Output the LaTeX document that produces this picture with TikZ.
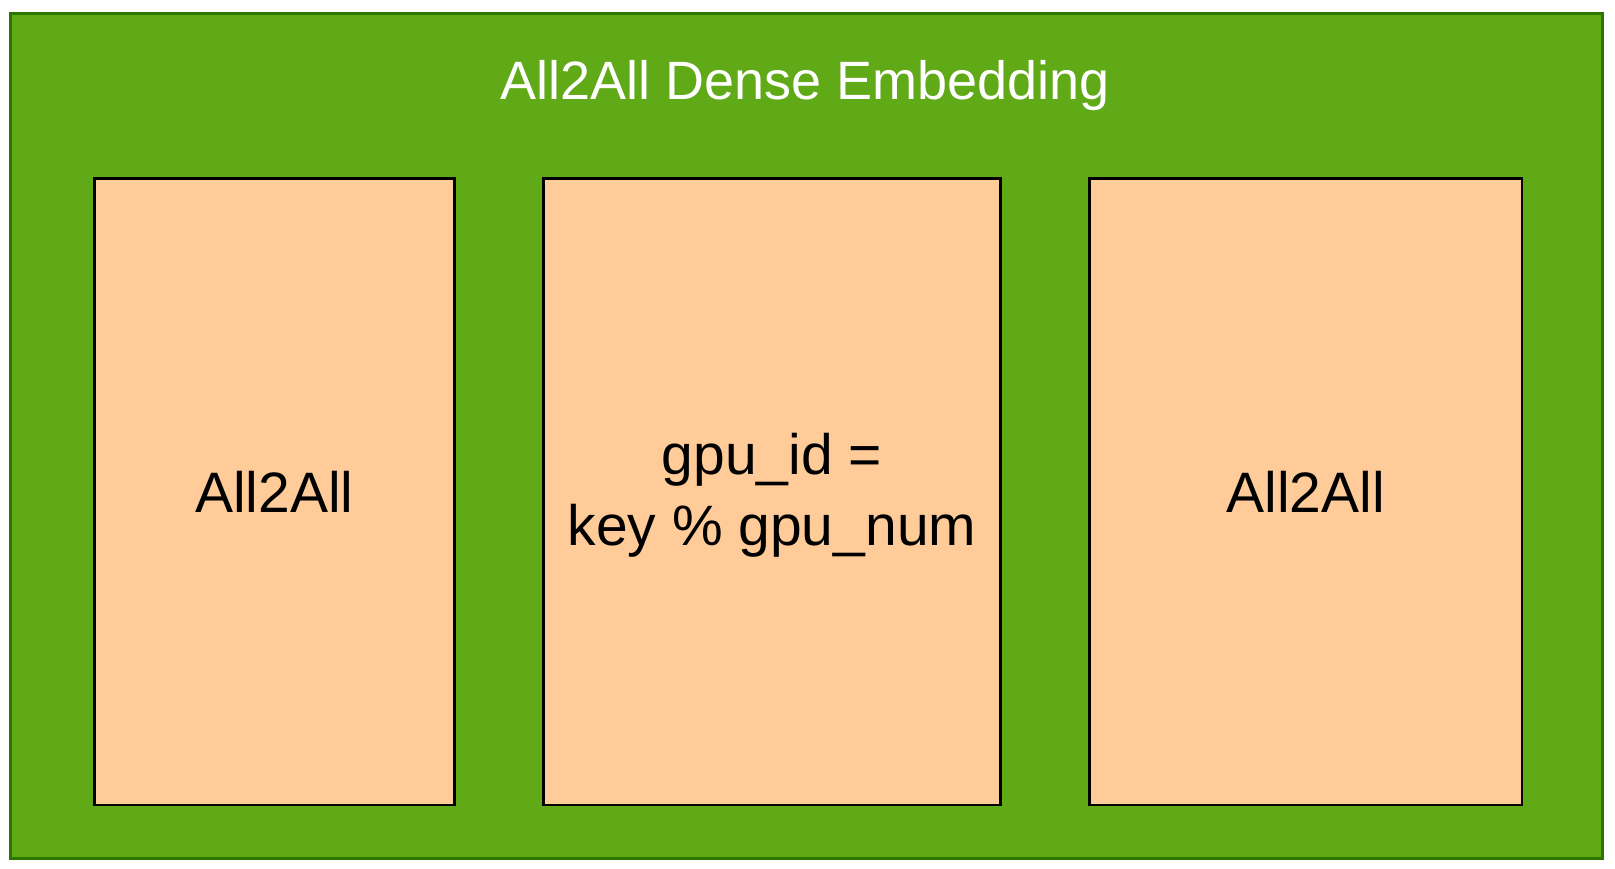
\documentclass[tikz,border=0pt]{standalone}
\usepackage{fontspec}
\setmainfont{Liberation Sans}
\definecolor{outergreen}{HTML}{60A917}
\definecolor{outerborder}{HTML}{2D7600}
\definecolor{peach}{HTML}{FFCC99}
\begin{document}
\begin{tikzpicture}[x=1pt,y=-1pt,
  outerbox/.style={draw=outerborder,fill=outergreen,line width=3pt},
  innerbox/.style={draw=black,fill=peach,line width=2.8pt},
  boxtext/.style={font=\fontsize{57}{71}\selectfont,align=center,text=black},
  titletext/.style={font=\fontsize{54}{60}\selectfont,text=white}]
\useasboundingbox (0,0) rectangle (1615,869);
\draw[outerbox] (10,13.5) rectangle (1602.5,858.5);
\node[titletext,anchor=base] (title) at (805,100) {All2All Dense Embedding};
\draw[innerbox] (94.3,178.3) rectangle (454.2,805) node[midway,boxtext] (b1) {All2All};
\draw[innerbox] (543.8,178.3) rectangle (1000.1,805) node[midway,boxtext,yshift=-4pt] (b2) {gpu\_id =\\key \% gpu\_num};
\draw[innerbox] (1089.7,178.3) rectangle (1522,805) node[midway,boxtext] (b3) {All2All};
\end{tikzpicture}
\end{document}
